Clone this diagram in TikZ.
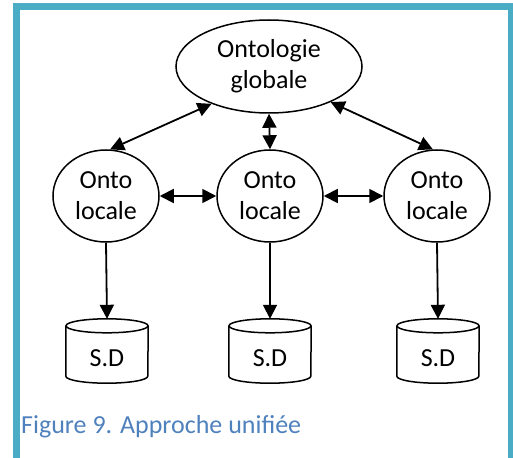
\documentclass[tikz,border=0pt]{standalone}
\usepackage{fontspec}
\setmainfont{Carlito}
\usetikzlibrary{shapes.geometric,arrows.meta}
\definecolor{frameteal}{HTML}{4BACC6}
\definecolor{captionblue}{HTML}{4F81BD}
\begin{document}
\begin{tikzpicture}[x=1pt,y=-1pt,
  every node/.style={font=\fontsize{26}{31}\selectfont},
  ell/.style={ellipse,draw,line width=1.5pt,inner sep=0pt,align=center},
  dbbox/.style={rectangle,inner sep=0pt,minimum width=82pt,minimum height=64pt},
  link/.style={line width=1.8pt,{Triangle[length=14pt,width=14pt]}-{Triangle[length=14pt,width=14pt]}},
  down/.style={line width=1.8pt,-{Triangle[length=14pt,width=14pt]}},
  cyl/.style={line width=1.5pt}]
\useasboundingbox (0,0) rectangle (513,457);
\begin{scope}
\clip (0,0) rectangle (513,457);
\draw[frameteal,line width=7pt] (16.5,470) -- (16.5,6.5) -- (511.5,6.5) -- (511.5,470);
\end{scope}
\node[ell,minimum width=186pt,minimum height=93pt] (top) at (269,66.5) {Ontologie\\globale};
\node[ell,minimum width=106pt,minimum height=92pt] (l1) at (106,196) {Onto\\locale};
\node[ell,minimum width=106pt,minimum height=92pt] (l2) at (270,196) {Onto\\locale};
\node[ell,minimum width=106pt,minimum height=92pt] (l3) at (437,196) {Onto\\locale};
\foreach \n/\x in {d1/107,d2/270,d3/438}{
  \node[dbbox] (\n) at (\x,351) {};
  \draw[cyl] ([yshift=-7pt]\n.north west) -- ([yshift=7pt]\n.south west)
     arc[start angle=180,end angle=360,x radius=41pt,y radius=7pt]
     -- ([yshift=-7pt]\n.north east);
  \draw[cyl] ([yshift=-7pt]\n.north) ellipse[x radius=41pt,y radius=7pt];
  \node at ([yshift=-7pt]\n.center) {S.D};
}
\draw[link] (top.213) -- (l1.85);
\draw[link] (top.south) -- (l2.north);
\draw[link] (top.330) -- (l3.95);
\draw[link] (l1.east) -- (l2.west);
\draw[link] (l2.east) -- (l3.west);
\draw[down] (l1.south) -- (d1.north);
\draw[down] (l2.south) -- (d2.north);
\draw[down] (l3.south) -- (d3.north);
\node[anchor=base west,inner sep=0pt,text=captionblue] (cap) at (21,433) {Figure 9. Approche unifiée};
\end{tikzpicture}
\end{document}
